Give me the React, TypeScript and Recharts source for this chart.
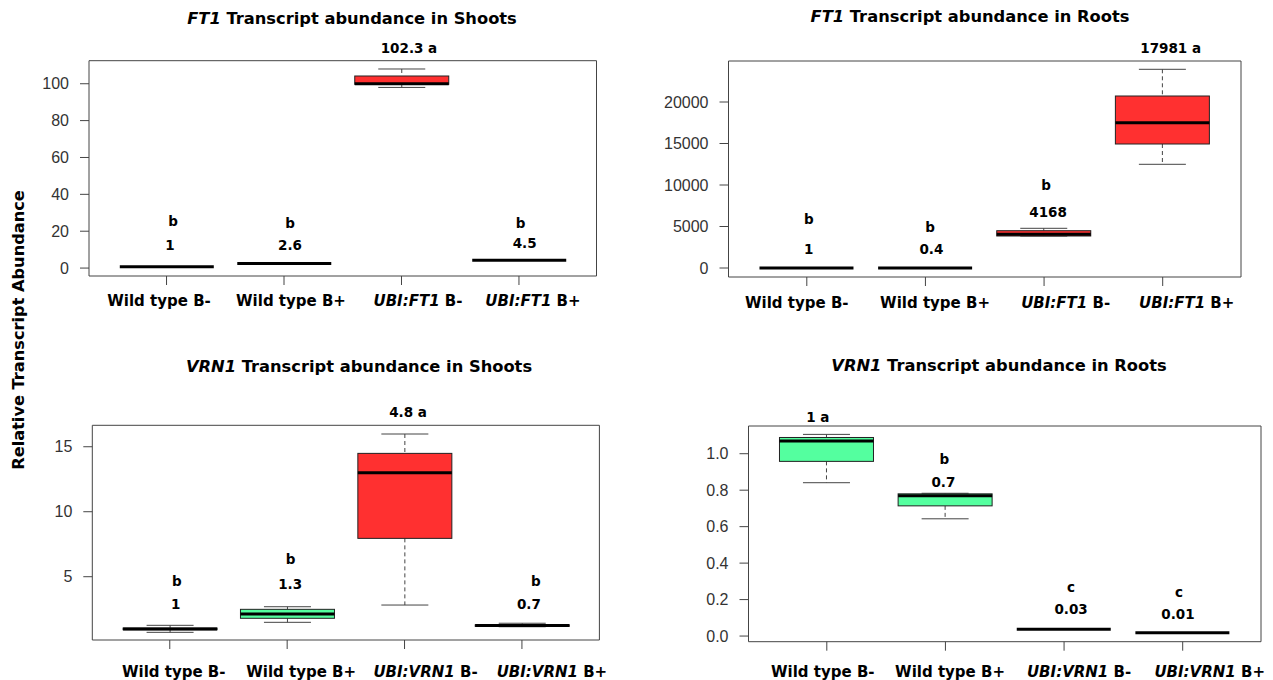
import React from "react";
import { Bar, ComposedChart, Line, ReferenceDot, XAxis, YAxis } from "recharts";

const ft1Groups = ["Wild type B-", "Wild type B+", "UBI:FT1 B-", "UBI:FT1 B+"];
const vrn1Groups = ["Wild type B-", "Wild type B+", "UBI:VRN1 B-", "UBI:VRN1 B+"];

// [lower whisker, Q1, median, Q3, upper whisker]
const ft1ShootBoxes = [
  [0.7, 0.7, 0.7, 0.7, 0.7],
  [2.5, 2.5, 2.5, 2.5, 2.5],
  [98, 99.7, 100, 104.2, 108],
  [4.3, 4.3, 4.3, 4.3, 4.3],
];
const ft1RootBoxes = [
  [1, 1, 1, 1, 1],
  [0.4, 0.4, 0.4, 0.4, 0.4],
  [3855, 3855, 4060, 4494, 4783],
  [12494, 14940, 17510, 20723, 23940],
];
const vrn1ShootBoxes = [
  [0.72, 0.92, 0.98, 1.05, 1.26],
  [1.49, 1.8, 2.13, 2.49, 2.69],
  [2.82, 7.95, 13.0, 14.49, 15.98],
  [1.15, 1.18, 1.25, 1.3, 1.42],
];
const vrn1RootBoxes = [
  [0.841, 0.958, 1.07, 1.089, 1.106],
  [0.643, 0.714, 0.77, 0.78, 0.783],
  [0.037, 0.037, 0.037, 0.037, 0.037],
  [0.018, 0.018, 0.018, 0.018, 0.018],
];

const ft1ShootMeans = ["1", "2.6", "102.3", "4.5"];
const ft1ShootLetters = ["b", "b", "a", "b"];
const ft1RootMeans = ["1", "0.4", "4168", "17981"];
const ft1RootLetters = ["b", "b", "b", "a"];
const vrn1ShootMeans = ["1", "1.3", "4.8", "0.7"];
const vrn1ShootLetters = ["b", "b", "a", "b"];
const vrn1RootMeans = ["1", "0.7", "0.03", "0.01"];
const vrn1RootLetters = ["a", "b", "c", "c"];

const ft1ShootTicks = [0, 20, 40, 60, 80, 100];
const ft1RootTicks = [0, 5000, 10000, 15000, 20000];
const vrn1ShootTicks = [5, 10, 15];
const vrn1RootTicks = [0, 0.2, 0.4, 0.6, 0.8, 1.0];

const GREEN = "#54FF9F";
const RED = "#FF3030";
const AXIS = "#444";
const BOLD = "'DejaVu Sans', Verdana, sans-serif";

function BoxShape(props: any) {
  const { x, y, width, height, payload } = props;
  const top = Math.min(y, y + height);
  const bot = Math.max(y, y + height);
  const span = payload.hi - payload.lo;
  const py = (v: number) => (span > 0 ? bot - ((v - payload.lo) / span) * (bot - top) : top);
  const cx = x + width / 2;
  const sw = width / 4;
  return (
    <g>
      <line x1={cx} x2={cx} y1={py(payload.hi)} y2={py(payload.q3)} stroke={AXIS} strokeDasharray="4 3" />
      <line x1={cx} x2={cx} y1={py(payload.q1)} y2={py(payload.lo)} stroke={AXIS} strokeDasharray="4 3" />
      <line x1={cx - sw} x2={cx + sw} y1={py(payload.hi)} y2={py(payload.hi)} stroke={AXIS} />
      <line x1={cx - sw} x2={cx + sw} y1={py(payload.lo)} y2={py(payload.lo)} stroke={AXIS} />
      <rect x={x} y={py(payload.q3)} width={width} height={Math.max(py(payload.q1) - py(payload.q3), 0)} fill={payload.fill} stroke="#222" />
      <line x1={x} x2={x + width} y1={py(payload.med)} y2={py(payload.med)} stroke="#000" strokeWidth={3} />
    </g>
  );
}

function GroupTick(props: any) {
  const { x, y, payload, index, shifts, drop } = props;
  const label: string = payload.value;
  const parts = label.split(" ");
  const italic = label.startsWith("UBI:");
  return (
    <text x={x + shifts[index]} y={y + drop} textAnchor="middle" fontFamily={BOLD} fontWeight="bold" fontSize={15} fill="#000">
      {italic ? (
        <>
          <tspan fontStyle="italic">{parts[0]}</tspan>
          <tspan>{" " + parts.slice(1).join(" ")}</tspan>
        </>
      ) : (
        label
      )}
    </text>
  );
}

type PanelProps = {
  groups: string[];
  boxes: number[][];
  means: string[];
  letters: string[];
  ticks: number[];
  domain: [number, number];
  fmt?: (v: number) => string;
  ox: number;
  oy: number;
  L: number;
  R: number;
  T: number;
  B: number;
  shifts: number[];
  drop: number;
  noteY: number[][];
  noteDx: number[][];
};

function BoxPanel(p: PanelProps) {
  const data = p.groups.map((name, i) => ({
    name,
    lo: p.boxes[i][0],
    q1: p.boxes[i][1],
    med: p.boxes[i][2],
    q3: p.boxes[i][3],
    hi: p.boxes[i][4],
    fill: name.startsWith("UBI:") ? RED : GREEN,
  }));
  const pad = ((p.R - p.L) * 0.16) / 4.32;
  // the frame axes (top, right) take 1px each
  const margin = { left: p.L - p.ox - 60, top: p.T - p.oy - 1, right: p.ox + 637 - p.R - 1, bottom: p.oy + 340 - p.B - 30 };

  const notes: { name: string; y: number; dx: number; text: string }[] = [];
  p.groups.forEach((name, i) => {
    const ys = p.noteY[i];
    const dxs = p.noteDx[i];
    if (ys.length === 1) {
      notes.push({ name, y: ys[0], dx: dxs[0], text: `${p.means[i]} ${p.letters[i]}` });
    } else {
      notes.push({ name, y: ys[0], dx: dxs[0], text: p.letters[i] });
      notes.push({ name, y: ys[1], dx: dxs[1], text: p.means[i] });
    }
  });

  return (
    <div style={{ position: "absolute", left: p.ox, top: p.oy, width: 637, height: 340 }}>
      <ComposedChart width={637} height={340} data={data} margin={margin}>
        <XAxis
          dataKey="name"
          type="category"
          interval={0}
          height={30}
          padding={{ left: pad, right: pad }}
          tickSize={9}
          tickMargin={0}
          axisLine={{ stroke: AXIS }}
          tickLine={{ stroke: AXIS }}
          tick={<GroupTick shifts={p.shifts} drop={p.drop} />}
        />
        <XAxis xAxisId="top" dataKey="name" orientation="top" height={1} tick={false} tickLine={false} axisLine={{ stroke: AXIS }} />
        <YAxis
          type="number"
          width={60}
          domain={p.domain}
          allowDataOverflow
          ticks={p.ticks}
          interval={0}
          tickFormatter={p.fmt}
          tickSize={9}
          tickMargin={11}
          axisLine={{ stroke: AXIS }}
          tickLine={{ stroke: AXIS }}
          tick={{ fill: "#333", fontSize: 16, fontFamily: "'Liberation Sans', Arial, sans-serif" }}
        />
        <YAxis yAxisId="right" orientation="right" type="number" width={1} domain={p.domain} allowDataOverflow tick={false} tickLine={false} axisLine={{ stroke: AXIS }} />
        <Bar dataKey={(d: any) => [d.lo, d.hi]} barSize={94} isAnimationActive={false} shape={(s: any) => <BoxShape {...s} />} />
        {/* invisible series so the frame axes (top, right) are used */}
        <Line xAxisId="top" yAxisId="right" dataKey="med" stroke="none" dot={false} activeDot={false} isAnimationActive={false} />
        {notes.map((n, k) => (
          <ReferenceDot
            key={k}
            x={n.name}
            y={n.y}
            r={0}
            ifOverflow="visible"
            shape={(s: any) => (
              <text x={s.cx + n.dx} y={s.cy} dy="0.36em" textAnchor="middle" fontFamily={BOLD} fontWeight="bold" fontSize={13.5} fill="#000">
                {n.text}
              </text>
            )}
          />
        ))}
      </ComposedChart>
    </div>
  );
}

function Title({ x, y, gene, rest }: { x: number; y: number; gene: string; rest: string }) {
  return (
    <div
      style={{
        position: "absolute",
        left: x,
        top: y,
        transform: "translate(-50%, -50%)",
        whiteSpace: "nowrap",
        fontFamily: BOLD,
        fontWeight: "bold",
        fontSize: 16.3,
        lineHeight: 1,
      }}
    >
      <i>{gene}</i>
      {rest}
    </div>
  );
}

export default function App() {
  return (
    <div style={{ position: "absolute", left: 0, top: 0, width: 1273, height: 680, background: "#fff", overflow: "hidden" }}>
      <BoxPanel
        groups={ft1Groups}
        boxes={ft1ShootBoxes}
        means={ft1ShootMeans}
        letters={ft1ShootLetters}
        ticks={ft1ShootTicks}
        domain={[-4.3, 112.5]}
        ox={0}
        oy={0}
        L={89}
        R={596.5}
        T={60.7}
        B={276}
        shifts={[-7.5, 7, 16.5, 14]}
        drop={20.5}
        noteY={[[25.5, 12.5], [24.4, 12.5], [119.4], [24.4, 13.6]]}
        noteDx={[[6.5, 3.5], [6, 6], [7.5], [1.6, 5.7]]}
      />
      <BoxPanel
        groups={ft1Groups}
        boxes={ft1RootBoxes}
        means={ft1RootMeans}
        letters={ft1RootLetters}
        ticks={ft1RootTicks}
        domain={[-1084, 24940]}
        ox={636}
        oy={0}
        L={728.5}
        R={1241}
        T={61}
        B={277}
        shifts={[-10, 9.6, 21.6, 24]}
        drop={21.5}
        noteY={[[5904, 2289], [4940, 2289], [10000, 6747], [26506]]}
        noteDx={[[2, 2], [4.6, 6], [2, 4], [8]]}
      />
      <BoxPanel
        groups={vrn1Groups}
        boxes={vrn1ShootBoxes}
        means={vrn1ShootMeans}
        letters={vrn1ShootLetters}
        ticks={vrn1ShootTicks}
        domain={[0.13, 16.65]}
        ox={0}
        oy={340}
        L={92.3}
        R={599.4}
        T={425.3}
        B={640}
        shifts={[4, 14, 21, 30]}
        drop={27.5}
        noteY={[[4.67, 2.9], [6.36, 4.44], [17.69], [4.67, 2.9]]}
        noteDx={[[7, 6], [3.5, 3], [3.5], [14, 7]]}
      />
      <BoxPanel
        groups={vrn1Groups}
        boxes={vrn1RootBoxes}
        means={vrn1RootMeans}
        letters={vrn1RootLetters}
        ticks={vrn1RootTicks}
        domain={[-0.031, 1.152]}
        fmt={(v) => v.toFixed(1)}
        ox={636}
        oy={340}
        L={748.5}
        R={1261}
        T={426}
        B={641.7}
        shifts={[-4, 4.6, 15, 27]}
        drop={26.5}
        noteY={[[1.2], [0.971, 0.846], [0.27, 0.146], [0.243, 0.121]]}
        noteDx={[[-9], [-1, -2], [7, 7], [-3.7, -4.7]]}
      />
      <Title x={352} y={19} gene="FT1" rest=" Transcript abundance in Shoots" />
      <Title x={970} y={17} gene="FT1" rest=" Transcript abundance in Roots" />
      <Title x={359} y={367} gene="VRN1" rest=" Transcript abundance in Shoots" />
      <Title x={999} y={366} gene="VRN1" rest=" Transcript abundance in Roots" />
      <div
        style={{
          position: "absolute",
          left: 19,
          top: 330,
          transform: "translate(-50%, -50%) rotate(-90deg)",
          whiteSpace: "nowrap",
          fontFamily: BOLD,
          fontWeight: "bold",
          fontSize: 16.2,
          lineHeight: 1,
        }}
      >
        Relative Transcript Abundance
      </div>
    </div>
  );
}
